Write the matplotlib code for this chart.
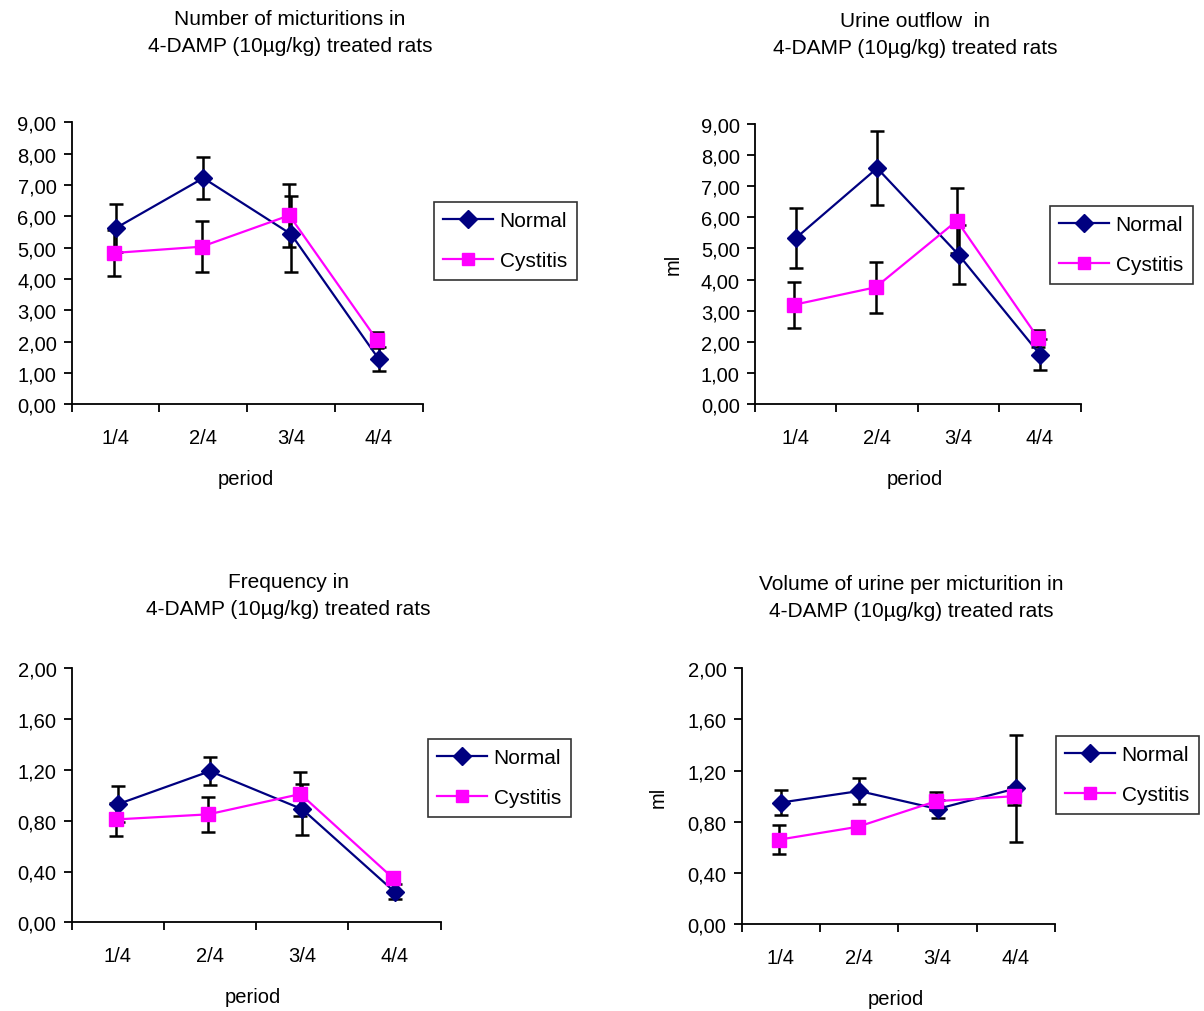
import matplotlib
matplotlib.use("Agg")
import matplotlib.pyplot as plt
import numpy as np
from matplotlib.ticker import FixedLocator, FuncFormatter

plt.rcParams["font.family"] = ["Liberation Sans", "DejaVu Sans"]

W, H = 1204, 1012

periods = ["1/4", "2/4", "3/4", "4/4"]

# micturitions
mict_normal = [5.62, 7.22, 5.43, 1.44]
mict_normal_err = [0.76, 0.66, 1.22, 0.38]
mict_cyst = [4.83, 5.03, 6.03, 2.05]
mict_cyst_err = [0.73, 0.82, 1.00, 0.25]

# urine outflow (ml)
outflow_normal = [5.33, 7.58, 4.80, 1.59]
outflow_normal_err = [0.97, 1.18, 0.94, 0.50]
outflow_cyst = [3.19, 3.75, 5.89, 2.11]
outflow_cyst_err = [0.74, 0.82, 1.05, 0.27]

# frequency
freq_normal = [0.93, 1.19, 0.89, 0.24]
freq_normal_err = [0.14, 0.11, 0.20, 0.06]
freq_cyst = [0.81, 0.85, 1.01, 0.35]
freq_cyst_err = [0.13, 0.14, 0.17, 0.05]

# volume per micturition (ml)
vol_normal = [0.95, 1.04, 0.90, 1.06]
vol_normal_err = [0.10, 0.10, 0.07, 0.42]
vol_cyst = [0.66, 0.76, 0.96, 1.00]
vol_cyst_err = [0.115, 0.03, 0.07, 0.07]

NAVY = "#000080"
MAGENTA = "#FF00FF"
FS = 14.5


def px(x, y):
    return x / W, 1 - y / H


def make_axes(fig, left, right, top, bottom):
    return fig.add_axes([left / W, 1 - bottom / H, (right - left) / W, (bottom - top) / H])


def panel(fig, box, normal, n_err, cyst, c_err, ymax, ystep, title, title_xy,
          xlab_xy, leg_xy, ylab_xy=None):
    ax = make_axes(fig, *box)
    x = np.arange(len(periods)) + 0.5
    ax.errorbar(x, normal, yerr=n_err, fmt="none", ecolor="black", elinewidth=1.8,
                capsize=5, capthick=1.8, zorder=2)
    ax.errorbar(x - 0.02, cyst, yerr=c_err, fmt="none", ecolor="black", elinewidth=1.8,
                capsize=5, capthick=1.8, zorder=2)
    ax.plot(x, normal, color=NAVY, lw=1.6, marker="D", ms=9.5, mec=NAVY, mfc=NAVY,
            label="Normal", zorder=3)
    ax.plot(x - 0.02, cyst, color=MAGENTA, lw=1.6, marker="s", ms=9.5, mec=MAGENTA,
            mfc=MAGENTA, label="Cystitis", zorder=3)

    ax.set_xlim(0, len(periods))
    ax.set_ylim(0, ymax)
    ax.yaxis.set_major_locator(FixedLocator(np.arange(0, ymax + ystep / 2, ystep)))
    ax.yaxis.set_major_formatter(FuncFormatter(lambda v, p: f"{v:.2f}".replace(".", ",")))
    ax.xaxis.set_major_locator(FixedLocator(np.arange(0, len(periods) + 1)))
    ax.xaxis.set_major_formatter(FuncFormatter(lambda v, p: ""))
    ax.xaxis.set_minor_locator(FixedLocator(x))
    ax.set_xticklabels(periods, minor=True)
    ax.tick_params(axis="x", which="minor", length=0, pad=17, labelsize=FS)
    ax.tick_params(axis="x", which="major", length=6, width=1.3, direction="out")
    ax.tick_params(axis="y", length=6, width=1.3, direction="out", pad=5, labelsize=FS)
    for s in ("top", "right"):
        ax.spines[s].set_visible(False)
    for s in ("left", "bottom"):
        ax.spines[s].set_linewidth(1.3)

    fig.text(*px(*title_xy), title, ha="center", va="center", fontsize=15,
             linespacing=1.5)
    fig.text(*px(*xlab_xy), "period", ha="center", va="center", fontsize=FS)
    if ylab_xy is not None:
        fig.text(*px(*ylab_xy), "ml", ha="center", va="center", fontsize=FS,
                 rotation=90)

    leg = ax.legend(loc="upper left", bbox_to_anchor=px(*leg_xy),
                    bbox_transform=fig.transFigure, borderaxespad=0, fontsize=15,
                    frameon=True, fancybox=False, handlelength=2.4,
                    handletextpad=0.3, labelspacing=1.0, borderpad=0.45,
                    markerscale=0.95)
    leg.get_frame().set_edgecolor("black")
    leg.get_frame().set_linewidth(1.2)
    return ax


fig = plt.figure(figsize=(W / 100, H / 100), dpi=100)

panel(fig, (71.7, 422.7, 123.3, 405.3), mict_normal, mict_normal_err, mict_cyst,
      mict_cyst_err, 9, 1, "Number of micturitions in\n4-DAMP (10µg/kg) treated rats",
      (290, 33), (246, 480), (434, 203))
panel(fig, (755, 1080.7, 125, 405), outflow_normal, outflow_normal_err, outflow_cyst,
      outflow_cyst_err, 9, 1, "Urine outflow  in\n4-DAMP (10µg/kg) treated rats",
      (915, 35), (915, 480), (1050, 207), ylab_xy=(673, 264))
panel(fig, (71.7, 440.7, 669.3, 923.3), freq_normal, freq_normal_err, freq_cyst,
      freq_cyst_err, 2, 0.4, "Frequency in\n4-DAMP (10µg/kg) treated rats",
      (288, 596), (253, 998), (428, 740))
panel(fig, (741.7, 1055, 669.3, 925), vol_normal, vol_normal_err, vol_cyst,
      vol_cyst_err, 2, 0.4, "Volume of urine per micturition in\n4-DAMP (10µg/kg) treated rats",
      (911, 598), (896, 1000), (1056, 737), ylab_xy=(658, 797))

fig.savefig("out.png", dpi=100)
